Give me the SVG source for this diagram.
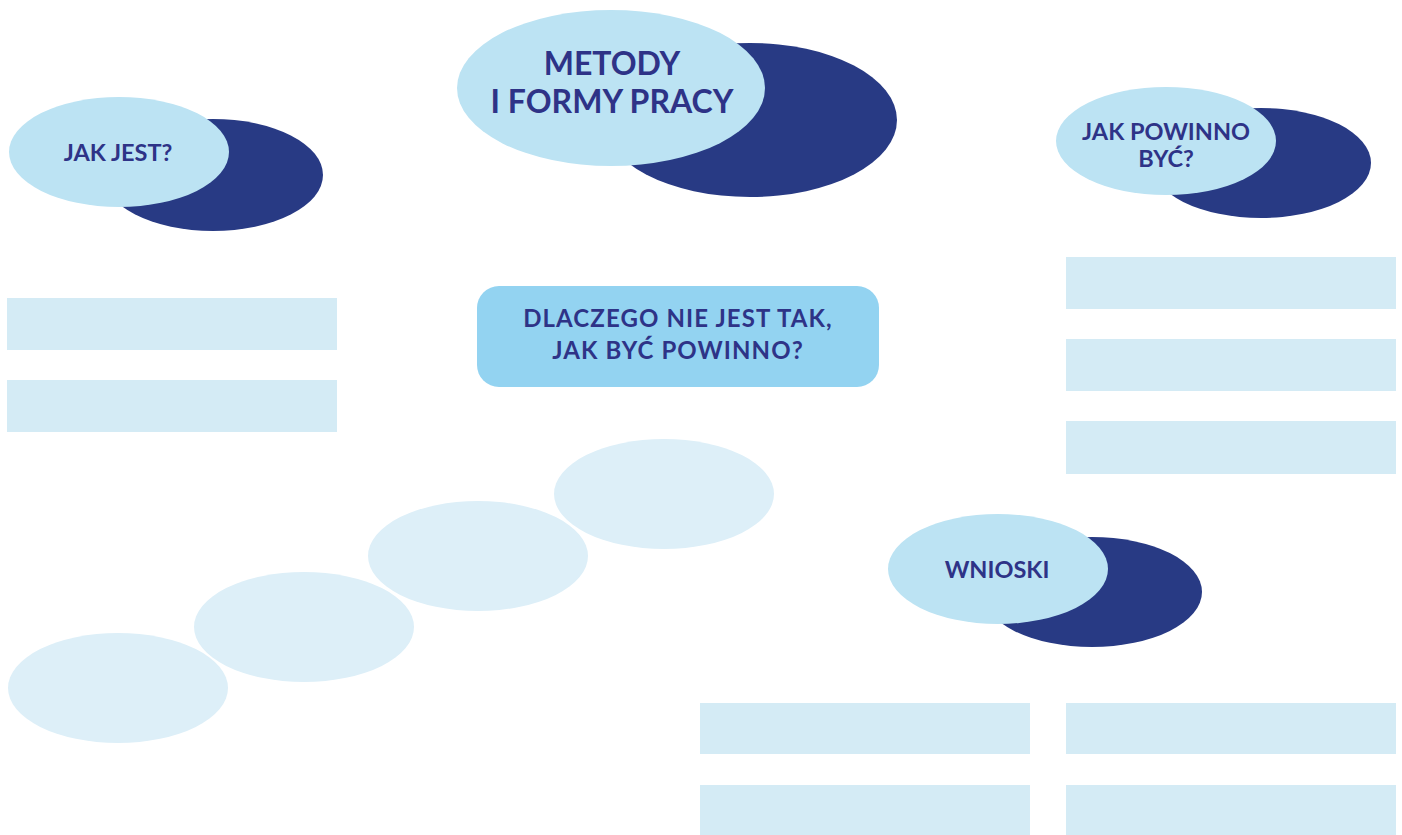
<svg xmlns="http://www.w3.org/2000/svg" width="1402" height="835" viewBox="0 0 1402 835">
<style>
.dark{fill:#283a84}
.light{fill:#bce3f3}
.pale{fill:#ddeff8}
.box{fill:#d4ebf5}
.q{fill:#93d3f1}
text{font-family:Lato,"Liberation Sans",sans-serif;font-weight:bold;fill:#2e3387;text-anchor:middle}
.t23{font-size:23.5px}
.tq{font-size:24px;letter-spacing:1.1px}
.t32{font-size:32px}
</style>
<rect width="1402" height="835" fill="#ffffff"/>
<g id="connectors"/>
<g id="metody">
<ellipse class="dark" cx="750" cy="120" rx="147" ry="77"/>
<ellipse class="light" cx="611" cy="88" rx="154" ry="78"/>
<text class="t32" x="612" y="75">METODY</text>
<text class="t32" x="612" y="113">I FORMY PRACY</text>
</g>
<g id="jak-jest">
<ellipse class="dark" cx="213" cy="175" rx="110" ry="56"/>
<ellipse class="light" cx="119" cy="152" rx="110" ry="55"/>
<text class="t23" x="118" y="161">JAK JEST?</text>
</g>
<g id="jak-powinno">
<ellipse class="dark" cx="1261" cy="163" rx="110" ry="55"/>
<ellipse class="light" cx="1166" cy="141" rx="110" ry="54"/>
<text class="t23" x="1166" y="140">JAK POWINNO</text>
<text class="t23" x="1166" y="167">BYĆ?</text>
</g>
<g id="wnioski">
<ellipse class="dark" cx="1092" cy="592" rx="110" ry="55"/>
<ellipse class="light" cx="998" cy="569" rx="110" ry="55"/>
<text class="t23" x="997" y="578">WNIOSKI</text>
</g>
<g id="dlaczego">
<rect class="q" x="477" y="286" width="402" height="101" rx="22"/>
<text class="tq" x="678" y="327">DLACZEGO NIE JEST TAK,</text>
<text class="tq" x="678" y="359">JAK BYĆ POWINNO?</text>
</g>
<g id="left-boxes">
<rect class="box" x="7" y="298" width="330" height="52"/>
<rect class="box" x="7" y="380" width="330" height="52"/>
</g>
<g id="right-boxes">
<rect class="box" x="1066" y="257" width="330" height="52"/>
<rect class="box" x="1066" y="339" width="330" height="52"/>
<rect class="box" x="1066" y="421" width="330" height="53"/>
</g>
<g id="bottom-boxes">
<rect class="box" x="700" y="703" width="330" height="51"/>
<rect class="box" x="700" y="785" width="330" height="50"/>
<rect class="box" x="1066" y="703" width="330" height="51"/>
<rect class="box" x="1066" y="785" width="330" height="50"/>
</g>
<g id="steps">
<ellipse class="pale" cx="664" cy="494" rx="110" ry="55"/>
<ellipse class="pale" cx="478" cy="556" rx="110" ry="55"/>
<ellipse class="pale" cx="304" cy="627" rx="110" ry="55"/>
<ellipse class="pale" cx="118" cy="688" rx="110" ry="55"/>
</g>
</svg>
